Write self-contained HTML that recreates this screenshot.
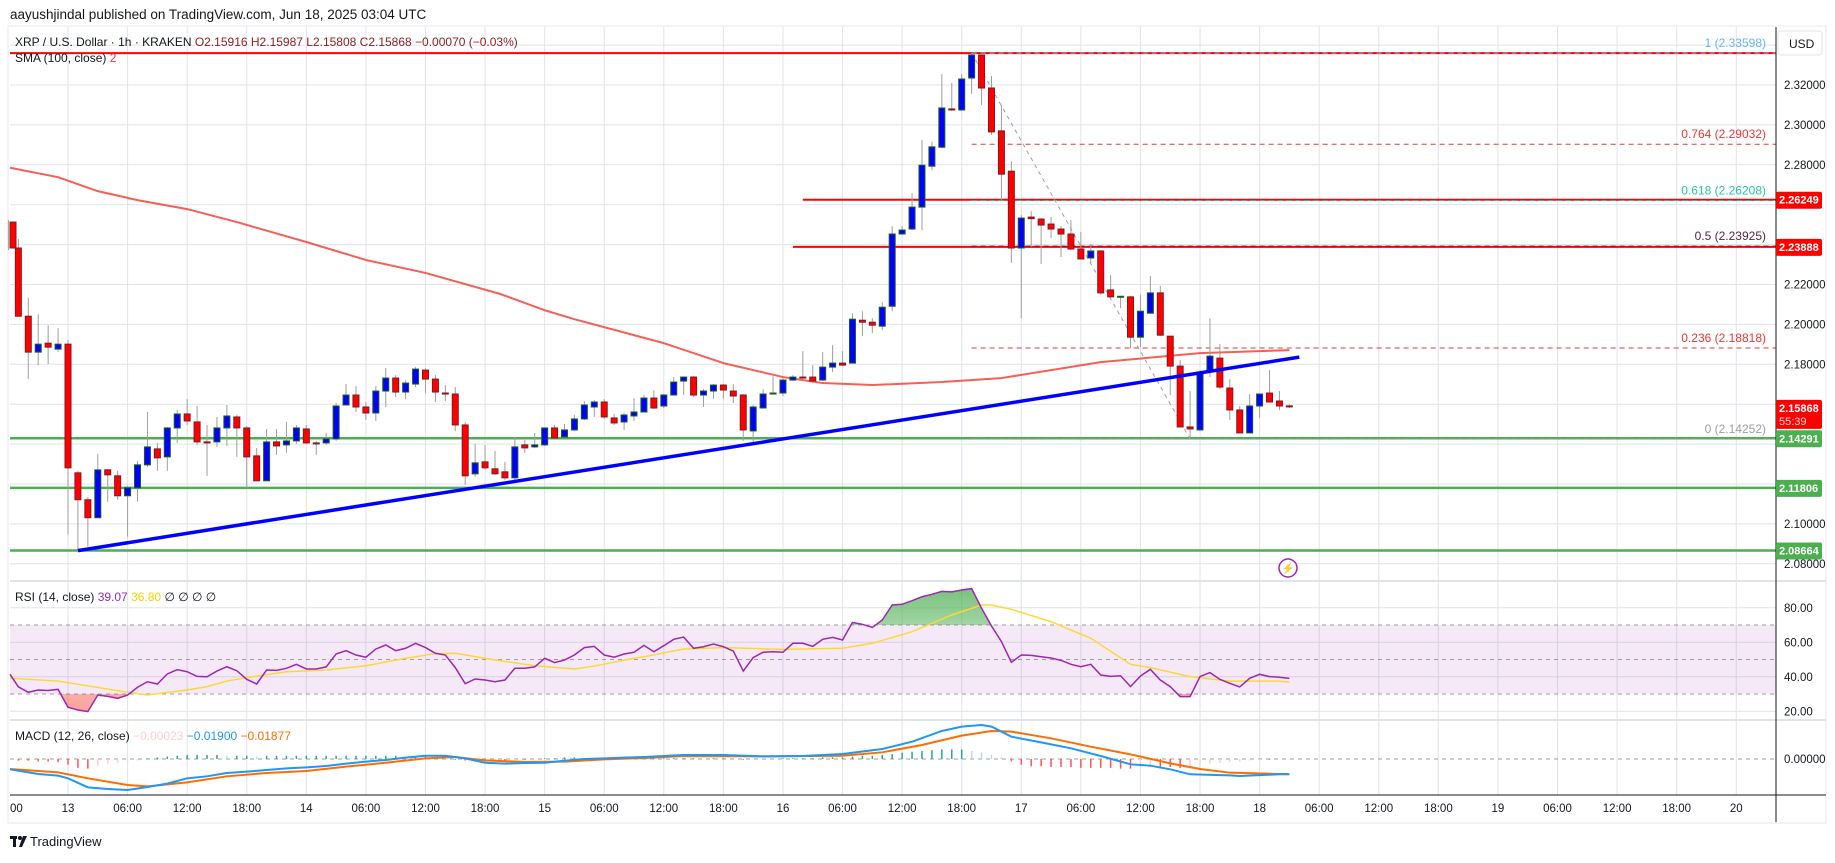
<!DOCTYPE html>
<html><head><meta charset="utf-8"><style>
html,body{margin:0;padding:0;background:#fff;}
body{width:1835px;height:858px;overflow:hidden;font-family:"Liberation Sans",sans-serif;}
svg text{font-family:"Liberation Sans",sans-serif;}
</style></head><body>
<svg id="chart" width="1835" height="858" viewBox="0 0 1835 858" xmlns="http://www.w3.org/2000/svg">
<defs><clipPath id="plotClip"><rect x="10" y="0" width="1835" height="858"/></clipPath></defs>
<rect x="0" y="0" width="1835" height="858" fill="#ffffff"/>
<rect x="8" y="26" width="1818" height="797" fill="none" stroke="#e6e8ee"/>
<g id="grid"></g>
<g id="panes"></g>
<g id="main"></g>
<g id="rsi"></g>
<g id="macd"></g>
<g id="axes"></g>
<g id="taxis" clip-path="url(#plotClip)"></g>
<text x="10" y="19" font-size="13.5" fill="#131722">aayushjindal published on TradingView.com, Jun 18, 2025 03:04 UTC</text>
<text x="15" y="46" font-size="12" fill="#131722">XRP / U.S. Dollar · 1h · KRAKEN <tspan fill="#8b1e1e"> O2.15916  H2.15987  L2.15808  C2.15868  −0.00070 (−0.03%)</tspan></text>
<text x="15" y="62" font-size="12" fill="#131722">SMA (100, close) <tspan fill="#f23645">2</tspan></text>
<text x="15" y="601" font-size="12" fill="#131722">RSI (14, close) <tspan fill="#9c27b0">39.07</tspan> <tspan fill="#f5d300">36.80</tspan> ∅ ∅ ∅ ∅</text>
<text x="15" y="740" font-size="12" fill="#131722">MACD (12, 26, close) <tspan fill="#ffcdd2">−0.00023</tspan> <tspan fill="#2196f3">−0.01900</tspan> <tspan fill="#ff6d00">−0.01877</tspan></text>
<g>
<rect x="10" y="836" width="7" height="3" fill="#131722"/><rect x="13" y="836" width="3" height="11" fill="#131722"/>
<circle cx="20" cy="838" r="2" fill="#131722"/><polygon points="23,836 27,836 22,847 19,847" fill="#131722"/>
<text x="30" y="846" font-size="13" fill="#131722">TradingView</text>
</g>
<g><circle cx="1288" cy="568" r="9" fill="#fff" stroke="#9c27b0" stroke-width="1.5"/><text x="1288" y="572" font-size="11" fill="#9c27b0" text-anchor="middle">⚡</text></g>
</svg>
<script>
const hours=[];for(let i=-6;i<=123;i++)hours.push(i);
const opens=[2.2513,2.2383,2.2041,2.1861,2.1906,2.1876,2.1901,2.1256,2.1121,2.1031,2.1271,2.1241,2.1141,2.1181,2.1296,2.1376,2.1336,2.1481,2.1551,2.1511,2.1411,2.1411,2.1481,2.1536,2.1481,2.1341,2.1216,2.1411,2.1396,2.1416,2.1476,2.1406,2.1406,2.1426,2.1596,2.1646,2.1586,2.1556,2.1666,2.1731,2.1661,2.1701,2.1771,2.1726,2.1656,2.1651,2.1496,2.1251,2.1311,2.1276,2.1261,2.1231,2.1396,2.1386,2.1396,2.1481,2.1436,2.1471,2.1526,2.1586,2.1611,2.1531,2.1511,2.1541,2.1561,2.1631,2.1591,2.1646,2.1716,2.1736,2.1646,2.1666,2.1696,2.1666,2.1646,2.1466,2.1581,2.1651,2.1656,2.1721,2.1736,2.1736,2.1721,2.1786,2.1806,2.1806,2.2021,2.2011,2.1991,2.2091,2.2453,2.2478,2.2588,2.2793,2.2888,2.3080,2.3075,2.3235,2.3350,2.3185,2.2970,2.2768,2.2383,2.2538,2.2528,2.2503,2.2478,2.2453,2.2378,2.2333,2.2368,2.2173,2.2138,2.2138,2.1936,2.2056,2.2158,2.1941,2.1791,2.1486,2.1471,2.1766,2.1831,2.1681,2.1571,2.1456,2.1591,2.1656,2.1616,2.15916];
const highs=[2.2523,2.2428,2.2133,2.2051,2.1996,2.1981,2.1921,2.1266,2.1136,2.1351,2.1276,2.1266,2.1191,2.1316,2.1561,2.1406,2.1486,2.1571,2.1626,2.1591,2.1496,2.1536,2.1596,2.1546,2.1491,2.1381,2.1476,2.1476,2.1511,2.1496,2.1496,2.1416,2.1456,2.1606,2.1701,2.1691,2.1611,2.1691,2.1781,2.1746,2.1721,2.1786,2.1781,2.1746,2.1696,2.1686,2.1511,2.1401,2.1396,2.1366,2.1311,2.1436,2.1421,2.1456,2.1481,2.1496,2.1501,2.1546,2.1616,2.1621,2.1626,2.1551,2.1556,2.1631,2.1646,2.1671,2.1651,2.1736,2.1736,2.1741,2.1676,2.1701,2.1701,2.1701,2.1651,2.1596,2.1676,2.1741,2.1731,2.1746,2.1866,2.1796,2.1861,2.1896,2.1866,2.2056,2.2066,2.2031,2.2111,2.2493,2.2493,2.2658,2.2925,2.2915,2.3255,2.3210,2.3255,2.33598,2.3355,2.3245,2.3100,2.2818,2.2548,2.2568,2.2533,2.2538,2.2493,2.2523,2.2463,2.2403,2.2373,2.2248,2.2143,2.2143,2.2148,2.2243,2.2193,2.1941,2.1821,2.1666,2.1771,2.2031,2.1901,2.1726,2.1591,2.1651,2.1651,2.1771,2.1666,2.15987];
const lows=[2.2373,2.2041,2.1726,2.1796,2.1801,2.1861,2.0946,2.0866,2.0886,2.1031,2.1111,2.1121,2.0936,2.1111,2.1286,2.1266,2.1266,2.1406,2.1496,2.1396,2.1241,2.1386,2.1391,2.1336,2.1181,2.1216,2.1216,2.1346,2.1356,2.1401,2.1401,2.1346,2.1396,2.1416,2.1596,2.1561,2.1521,2.1516,2.1586,2.1636,2.1626,2.1686,2.1656,2.1611,2.1616,2.1466,2.1196,2.1236,2.1271,2.1246,2.1221,2.1211,2.1356,2.1381,2.1391,2.1431,2.1436,2.1466,2.1521,2.1536,2.1526,2.1496,2.1471,2.1516,2.1561,2.1576,2.1581,2.1646,2.1646,2.1636,2.1586,2.1626,2.1626,2.1606,2.1416,2.1411,2.1581,2.1651,2.1641,2.1716,2.1721,2.1706,2.1716,2.1761,2.1791,2.1806,2.1941,2.1956,2.1971,2.2066,2.2453,2.2473,2.2473,2.2773,2.2883,2.3070,2.3070,2.3155,2.3100,2.2950,2.2623,2.2308,2.2031,2.2388,2.2303,2.2433,2.2338,2.2373,2.2328,2.2308,2.2148,2.2133,2.2081,2.1881,2.1886,2.2056,2.1941,2.1646,2.1486,2.1425,2.1471,2.1736,2.1676,2.1521,2.1456,2.1456,2.1531,2.1611,2.1571,2.15808];
const closes=[2.2383,2.2041,2.1861,2.1901,2.1886,2.1901,2.1281,2.1121,2.1031,2.1271,2.1246,2.1141,2.1181,2.1296,2.1386,2.1331,2.1481,2.1551,2.1516,2.1411,2.1406,2.1481,2.1541,2.1481,2.1336,2.1216,2.1411,2.1391,2.1416,2.1481,2.1406,2.1403,2.1426,2.1591,2.1646,2.1586,2.1556,2.1666,2.1731,2.1661,2.1706,2.1776,2.1726,2.1661,2.1653,2.1496,2.1241,2.1306,2.1281,2.1251,2.1231,2.1386,2.1381,2.1396,2.1481,2.1431,2.1471,2.1526,2.1596,2.1611,2.1536,2.1506,2.1546,2.1561,2.1631,2.1581,2.1646,2.1711,2.1736,2.1646,2.1666,2.1696,2.1671,2.1641,2.1471,2.1586,2.1651,2.1656,2.1721,2.1736,2.1733,2.1716,2.1786,2.1806,2.1796,2.2026,2.2011,2.1996,2.2086,2.2453,2.2473,2.2588,2.2798,2.2890,2.3085,2.3075,2.3230,2.3350,2.3185,2.2965,2.2753,2.2383,2.2533,2.2530,2.2498,2.2478,2.2453,2.2378,2.2328,2.2368,2.2158,2.2138,2.2141,2.1936,2.2066,2.2158,2.1946,2.1791,2.1486,2.1476,2.1761,2.1841,2.1686,2.1571,2.1456,2.1591,2.1651,2.1611,2.1591,2.15868];
const smaHours=[-6,-1,3,7,12,17,24,30,36,43.5,48,51,60,66,72,76,81,88,94,104,114,123];
const smaValues=[2.2785,2.2738,2.2668,2.2623,2.2578,2.2513,2.2413,2.2323,2.2258,2.2153,2.2071,2.2026,2.1906,2.1806,2.1736,2.1706,2.1696,2.1711,2.1731,2.1811,2.1856,2.1871];
const rsiValues=[41.4,34.2,31,32.3,32,32.7,22.3,20.7,19.8,29.4,28.6,27.5,29.4,33.9,37.1,35.8,41.6,44.1,42.9,40.2,40,43.3,45.8,43.5,38.5,35.8,43.9,43.7,44.9,47.2,44.5,44.5,45.7,53.2,55.1,52.6,51.3,56.1,58.4,55.1,56.5,59.4,56.9,53.6,52.6,45.3,36,38.7,38.1,37.1,38.1,44.9,44.9,45.7,50.7,48.2,49.7,52.6,56.9,57.6,52.6,51.3,53.2,54.2,58.2,54.5,58,61.7,63,56.5,57.4,59,57.4,54.9,43.3,51.1,54.2,54.5,54.2,59.4,59.4,57.6,61.7,62.8,61.3,71.5,70.4,68.6,72.9,81.6,82,84.1,86.4,87.8,89.5,89.2,90.3,91.1,79.7,69.4,60.4,48.4,52.6,52.4,51.6,50.9,49.5,47.2,45.8,47.2,41,40.2,40.6,34.3,40.4,44.3,38.1,34.3,28.5,28.5,40.1,42.4,38.5,36.2,34.1,39.1,41.4,40.1,39.7,39.07];
const rsiMaHours=[-6,-1,6,8,12,14,16,18,22,26,30,34,37,39,43,47,51,53,57,58,62,66,72,78,81,85,89,92,93,95,99,103,107,109,113,117,122,123];
const rsiMaValues=[39.1,37.5,31,29.4,32.3,34.3,37.5,39.5,42.9,43.9,46.4,50.7,53.4,53.6,49.7,46.4,44.5,46.2,50.7,51.6,56.1,56.9,55.9,56.5,59.4,66.1,75.8,81.6,81.6,79.1,71.9,62.3,47.2,45.3,40.1,37.5,37.5,36.8];
const macdHours=[-6,-3,-1,0,2,4,6,8,10,12,14,16,18,20,22,24,26,28,30,32,34,36,38,40,42,44,46,48,50,52,54,56,58,62,66,70,74,78,82,85,88,90,92,93,95,98,101,104,107,109,111,113,117,118,122,123];
const macdValues=[-0.0128,-0.0186,-0.0207,-0.024,-0.0352,-0.0373,-0.0385,-0.0348,-0.0306,-0.024,-0.0215,-0.0174,-0.0157,-0.0137,-0.0116,-0.0104,-0.0087,-0.0058,-0.0033,-0.0012,0.0017,0.0041,0.0041,0.0008,-0.0046,-0.0058,-0.005,-0.0046,-0.0021,0,0.0008,0.0017,0.0025,0.005,0.005,0.0033,0.0037,0.0062,0.0124,0.0215,0.0348,0.0402,0.0422,0.0402,0.0277,0.0207,0.0133,0.0037,-0.0066,-0.0083,-0.0128,-0.019,-0.0203,-0.0211,-0.019,-0.019];
const signalHours=[-6,-1,2,6,8,12,16,20,24,28,32,36,39,42,46,50,54,58,62,70,78,82,86,90,93,95,99,103,107,111,114,117,122,123];
const signalValues=[-0.0124,-0.0166,-0.024,-0.0323,-0.034,-0.029,-0.0215,-0.0174,-0.0149,-0.0095,-0.0046,0.0008,0.0025,-0.0017,-0.0037,-0.0033,-0.0004,0.0012,0.0037,0.0033,0.0041,0.0083,0.0174,0.029,0.0348,0.034,0.0257,0.0153,0.0058,-0.0054,-0.0124,-0.017,-0.0186,-0.01877];
const histValues=[-0.001,-0.002,-0.002,-0.003,-0.003,-0.004,-0.007,-0.011,-0.012,-0.008,-0.006,-0.005,-0.003,-0.002,0.001,0.002,0.003,0.004,0.005,0.005,0.005,0.005,0.004,0.004,0.004,0.003,0.004,0.004,0.004,0.004,0.004,0.004,0.004,0.004,0.004,0.004,0.004,0.004,0.004,0.004,0.003,0.003,0.003,0.002,0.001,-0.001,-0.002,-0.003,-0.003,-0.002,-0.002,-0.001,-0.001,0,0.001,0.001,0.002,0.002,0.001,0.001,0.001,0.002,0.002,0.002,0.001,0.001,0.001,0.001,0.001,0.001,0,0.001,0.001,0,-0.001,0,0,0,0.001,0.001,0.001,0.001,0.002,0.002,0.002,0.003,0.004,0.004,0.005,0.006,0.008,0.009,0.010,0.011,0.012,0.012,0.012,0.010,0.008,0.005,0.002,-0.003,-0.007,-0.009,-0.009,-0.010,-0.010,-0.010,-0.011,-0.011,-0.011,-0.011,-0.012,-0.012,-0.011,-0.010,-0.010,-0.010,-0.011,-0.010,-0.008,-0.006,-0.005,-0.004,-0.003,-0.002,-0.001,-0.001,0,-0.0002];
const priceTicks=[2.32,2.30,2.28,2.22,2.20,2.18,2.10,2.08];
const priceGrid=[2.34,2.32,2.30,2.28,2.26,2.24,2.22,2.20,2.18,2.16,2.14,2.12,2.10,2.08];
const rsiTicks=[80,60,40,20];
const rsiDashed=[70,50,30];
const timeTickHours=[-6,0,6,12,18,24,30,36,42,48,54,60,66,72,78,84,90,96,102,108,114,120,126,132,138,144,150,156,162,168];
const timeTickLabels=["18:00","13","06:00","12:00","18:00","14","06:00","12:00","18:00","15","06:00","12:00","18:00","16","06:00","12:00","18:00","17","06:00","12:00","18:00","18","06:00","12:00","18:00","19","06:00","12:00","18:00","20"];
const redLevels=[2.33598,2.26249,2.23888];
const redLevelStart=[-6,74,73];
const greenLevels=[2.14291,2.11806,2.08664];
const fibRatios=["1","0.764","0.618","0.5","0.236","0"];
const fibPrices=[2.33598,2.29032,2.26208,2.23925,2.18818,2.14252];
const fibColors=["#64b5f6","#e53935","#26c6a0","#5d1f3f","#e53935","#9e9e9e"];
const fibStartHour=91, fibEndHour=113;
const trendHours=[1,124];
const trendPrices=[2.0866,2.1836];
const lastPrice=2.15868;

const NS="http://www.w3.org/2000/svg";
const X0=10, XR=1776;
const xH=h=>68+h*9.93;
const yP=p=>85+(2.32-p)*1995;
const yR=v=>625+(70-v)*1.725;
const yM=m=>759-m*805;
function mk(tag,attrs,parent){const e=document.createElementNS(NS,tag);for(const k in attrs)e.setAttribute(k,attrs[k]);parent.appendChild(e);return e;}
const grid=document.getElementById('grid'),main=document.getElementById('main'),rsi=document.getElementById('rsi'),macd=document.getElementById('macd'),axes=document.getElementById('axes'),panes=document.getElementById('panes'),taxis=document.getElementById('taxis');

timeTickHours.forEach(h=>{const x=xH(h);if(x<X0)return;const l=mk('line',{x1:x,x2:x,y1:27,y2:795,stroke:'#e0e3eb','stroke-width':1},grid);

});
priceGrid.forEach(p=>{const l=mk('line',{x1:X0,x2:XR,y1:yP(p),y2:yP(p),stroke:'#e0e3eb'},grid);

});
rsiTicks.forEach(v=>{const l=mk('line',{x1:X0,x2:XR,y1:yR(v),y2:yR(v),stroke:'#e0e3eb'},grid);

});
[581,720].forEach(y=>{const l=mk('line',{x1:X0,x2:1826,y1:y,y2:y,stroke:'#e0e3eb','stroke-width':2},panes);

});
const ax=mk('line',{x1:XR,x2:XR,y1:27,y2:822,stroke:'#131722'},axes);


const tx=mk('line',{x1:X0,x2:1826,y1:795,y2:795,stroke:'#131722'},axes);


const strip=mk('rect',{x:X0,y:822,width:1816,height:2,fill:'#f0f3fa'},axes);



const smaPts=smaHours.map((h,i)=>Math.max(X0,xH(h))+','+yP(smaValues[i])).join(' ');
const sma=mk('polyline',{points:smaPts,fill:'none',stroke:'#f44336','stroke-width':2,'stroke-opacity':0.85,'stroke-linejoin':'round'},main);



redLevels.forEach((p,i)=>{const l=mk('line',{x1:Math.max(X0,xH(redLevelStart[i])),x2:XR,y1:yP(p),y2:yP(p),stroke:'#ff0000','stroke-width':2},main);

});
greenLevels.forEach(p=>{const l=mk('line',{x1:X0,x2:XR,y1:yP(p),y2:yP(p),stroke:'#4caf50','stroke-width':2.5},main);

});
fibPrices.forEach((p,i)=>{const l=mk('line',{x1:xH(fibStartHour),x2:XR,y1:yP(p),y2:yP(p),stroke:fibColors[i],'stroke-width':1,'stroke-dasharray':'5,4'},main);


const t=mk('text',{x:1766,y:yP(p)-6,'font-size':12,fill:fibColors[i],'text-anchor':'end'},main);
t.textContent=fibRatios[i]+' ('+p.toFixed(5)+')';

});
const fd=mk('line',{x1:xH(fibStartHour),y1:yP(fibPrices[0]),x2:xH(fibEndHour),y2:yP(fibPrices[5]),stroke:'#9e9e9e','stroke-dasharray':'4,4'},main);



const cg=mk('g',{},main);


hours.forEach((h,i)=>{const x=xH(h);if(x<X0-3)return;const o=opens[i],c=closes[i],up=c>=o;
const w=mk('line',{x1:x,x2:x,y1:yP(highs[i]),y2:yP(lows[i]),stroke:'#9e9e9e'},cg);


const top=yP(Math.max(o,c)),bot=yP(Math.min(o,c));
const b=mk('rect',{x:Math.max(X0,x-3),y:top,width:6,height:Math.max(1,bot-top),fill:up?'#0000ff':'#ff0000',stroke:up?'#1b5e20':'#801922','stroke-width':1},cg);

});

const tl=mk('line',{x1:xH(trendHours[0]),y1:yP(trendPrices[0]),x2:xH(trendHours[1]),y2:yP(trendPrices[1]),stroke:'#0000ff','stroke-width':3.5},main);



priceTicks.forEach(p=>{const t=mk('text',{x:1784,y:yP(p)+4,'font-size':11.5,fill:'#131722'},axes);
t.textContent=p.toFixed(5);

});
const usd=mk('rect',{x:1778,y:31,width:44,height:24,rx:3,fill:'#fff',stroke:'#e0e3eb'},axes);


const ut=mk('text',{x:1789,y:48,'font-size':12,fill:'#131722'},axes);ut.textContent='USD';


const tags=[[2.26249,'#ff0000'],[2.23888,'#ff0000'],[2.14291,'#4caf50'],[2.11806,'#4caf50'],[2.08664,'#4caf50']];
tags.forEach(([p,col])=>{const y=yP(p);const r=mk('rect',{x:1776,y:y-8,width:46,height:17,rx:2,fill:col},axes);


const t=mk('text',{x:1779,y:y+4,'font-size':11,'font-weight':'bold',fill:'#fff'},axes);t.textContent=p.toFixed(5);

});
{const y=yP(lastPrice);const r=mk('rect',{x:1776,y:y-7,width:46,height:29,rx:2,fill:'#ff0000'},axes);


const t=mk('text',{x:1779,y:y+5,'font-size':11,'font-weight':'bold',fill:'#fff'},axes);t.textContent=lastPrice.toFixed(5);


const t2=mk('text',{x:1779,y:y+18,'font-size':11,fill:'#ffd6d6'},axes);t2.textContent='55:39';

}

timeTickHours.forEach((h,i)=>{const t=mk('text',{x:xH(h),y:812,'font-size':11.5,fill:'#131722','text-anchor':'middle'},taxis);
t.textContent=timeTickLabels[i];

});

const band=mk('rect',{x:X0,y:yR(70),width:XR-X0,height:yR(30)-yR(70),fill:'#9c27b0','fill-opacity':0.1},rsi);


rsiDashed.forEach(v=>{const l=mk('line',{x1:X0,x2:XR,y1:yR(v),y2:yR(v),stroke:'#9e9e9e','stroke-dasharray':'4,4'},rsi);

});
const defs=mk('defs',{},rsi);
defs.innerHTML='<linearGradient id="gU" x1="0" y1="0" x2="0" y2="1"><stop offset="0" stop-color="#4caf50" stop-opacity="0.75"/><stop offset="1" stop-color="#4caf50" stop-opacity="0"/></linearGradient><linearGradient id="gD" x1="0" y1="1" x2="0" y2="0"><stop offset="0" stop-color="#f44336" stop-opacity="0.5"/><stop offset="1" stop-color="#f44336" stop-opacity="0"/></linearGradient><clipPath id="cU"><rect x="0" y="560" width="1776" height="'+(yR(70)-560)+'"/></clipPath><clipPath id="cD"><rect x="0" y="'+yR(30)+'" width="1776" height="40"/></clipPath>';
const rsiPts=hours.map((h,i)=>[Math.max(X0,xH(h)),yR(rsiValues[i])]);
const ptsStr=rsiPts.map(p=>p.join(',')).join(' ');
const fU=mk('polygon',{points:X0+','+yR(70)+' '+ptsStr+' '+xH(123)+','+yR(70),fill:'url(#gU)','clip-path':'url(#cU)'},rsi);


const fD=mk('polygon',{points:X0+','+yR(30)+' '+ptsStr+' '+xH(123)+','+yR(30),fill:'url(#gD)','clip-path':'url(#cD)'},rsi);


const rma=mk('polyline',{points:rsiMaHours.map((h,i)=>Math.max(X0,xH(h))+','+yR(rsiMaValues[i])).join(' '),fill:'none',stroke:'#fdd835','stroke-width':1.5},rsi);


const rl=mk('polyline',{points:ptsStr,fill:'none',stroke:'#9c27b0','stroke-width':1.5},rsi);


rsiTicks.forEach(v=>{const t=mk('text',{x:1784,y:yR(v)+4,'font-size':11.5,fill:'#131722'},axes);t.textContent=v.toFixed(2);

});

const z=mk('line',{x1:X0,x2:XR,y1:yM(0),y2:yM(0),stroke:'#9e9e9e','stroke-dasharray':'4,4'},macd);


hours.forEach((h,i)=>{const v=histValues[i],prev=i>0?histValues[i-1]:v;const x=xH(h);if(x<X0)return;
let col=v>=0?(v>=prev?'#26a69a':'#b2dfdb'):(v<=prev?'#ff5252':'#ffcdd2');
const b=mk('line',{x1:x,x2:x,y1:yM(0),y2:yM(v),stroke:col,'stroke-width':1.5},macd);

});
const sl=mk('polyline',{points:signalHours.map((h,i)=>Math.max(X0,xH(h))+','+yM(signalValues[i])).join(' '),fill:'none',stroke:'#ff6d00','stroke-width':2},macd);


const ml=mk('polyline',{points:macdHours.map((h,i)=>Math.max(X0,xH(h))+','+yM(macdValues[i])).join(' '),fill:'none',stroke:'#2196f3','stroke-width':2},macd);


const mt=mk('text',{x:1784,y:yM(0)+4,'font-size':11.5,fill:'#131722'},axes);mt.textContent='0.00000';


</script>
</body></html>
